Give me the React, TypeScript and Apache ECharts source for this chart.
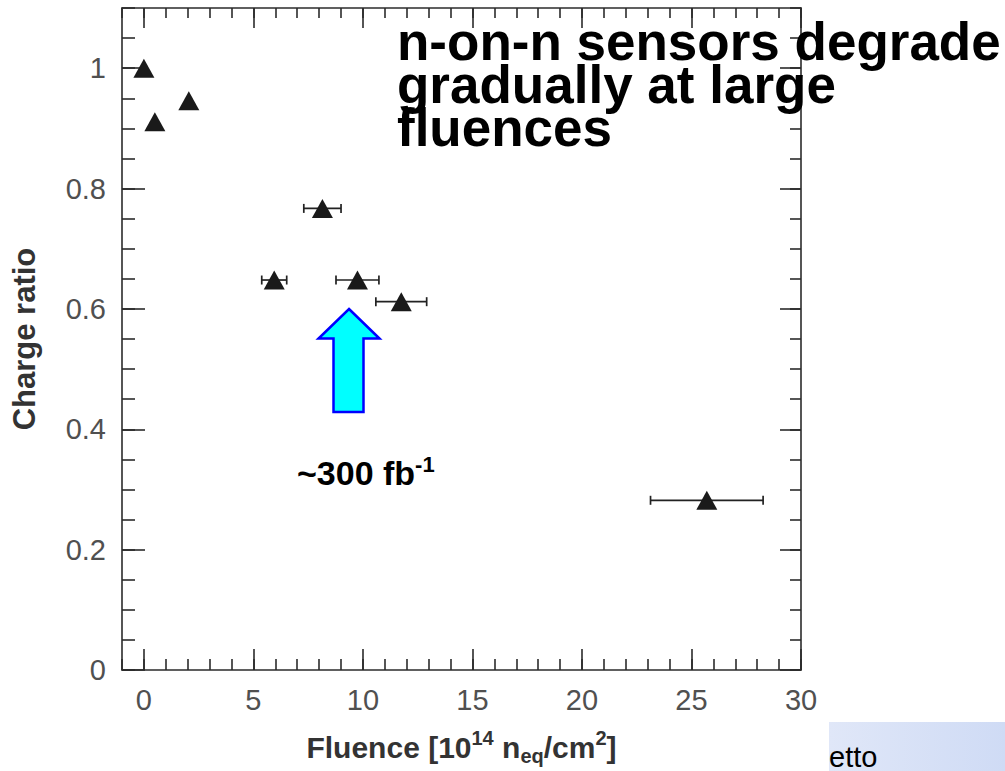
import React, { useEffect, useRef } from 'react';
import * as echarts from 'echarts';

// ---- data ----
const fluence = [0, 0.5, 2.05, 5.95, 8.15, 9.75, 11.75, 25.7];
const chargeRatio = [1.0, 0.911, 0.946, 0.648, 0.767, 0.648, 0.612, 0.282];
const fluenceErr = [0, 0, 0, 0.57, 0.85, 0.98, 1.16, 2.57];

const xMajorTicks = [0, 5, 10, 15, 20, 25, 30];
const xMinorTicks = [-1, 0, 1, 2, 3, 4, 5, 6, 7, 8, 9, 10, 11, 12, 13, 14, 15, 16, 17, 18, 19, 20, 21, 22, 23, 24, 25, 26, 27, 28, 29, 30];
const yMajorTicks = [0, 0.2, 0.4, 0.6, 0.8, 1];
const yMinorTicks = [0, 0.05, 0.1, 0.15, 0.2, 0.25, 0.3, 0.35, 0.4, 0.45, 0.5, 0.55, 0.6, 0.65, 0.7, 0.75, 0.8, 0.85, 0.9, 0.95, 1, 1.05, 1.1];

const X_MIN = -1;
const X_MAX = 30;
const Y_MIN = 0;
const Y_MAX = 1.1;

const FONT = '"Liberation Sans", Arial, Helvetica, sans-serif';
const AXIS_COLOR = '#2b2b2b';

function makeAxis(kind: 'x' | 'y', position: string, ticks: number[], len: number, showLine: boolean, showLabel: boolean, extra: any = {}) {
  return {
    type: 'value',
    position,
    min: kind === 'x' ? X_MIN : Y_MIN,
    max: kind === 'x' ? X_MAX : Y_MAX,
    splitLine: { show: false },
    axisLine: { show: showLine, onZero: false, lineStyle: { color: AXIS_COLOR, width: 1.6 } },
    axisTick: {
      show: true,
      inside: true,
      length: len,
      customValues: ticks,
      lineStyle: { color: AXIS_COLOR, width: 1.6 },
    },
    axisLabel: showLabel
      ? {
          show: true,
          customValues: kind === 'x' ? xMajorTicks : yMajorTicks,
          fontFamily: FONT,
          fontSize: 29,
          color: '#505050',
          margin: kind === 'x' ? 15 : 16,
        }
      : { show: false },
    nameMoveOverlap: false,
    ...extra,
  };
}

export default function App() {
  const ref = useRef<HTMLDivElement>(null);

  useEffect(() => {
    const chart = echarts.init(ref.current!, null, { renderer: 'svg' });

    const pointData = fluence.map((x, i) => [x, chargeRatio[i]]);
    const errData = fluence.map((x, i) => [x, chargeRatio[i], fluenceErr[i]]);

    const option: any = {
      animation: false,
      backgroundColor: '#ffffff',
      grid: { left: 122, top: 8, right: 204, bottom: 101, outerBoundsMode: 'none' },
      xAxis: [
        makeAxis('x', 'bottom', xMajorTicks, 21, true, true, {
          name: '{t|Fluence [10}{sup|14}{t| n}{sub|eq}{t|/cm}{sup|2}{t|]}',
          nameLocation: 'middle',
          nameGap: 58,
          nameTextStyle: {
            fontFamily: FONT,
            rich: {
              t: { fontFamily: FONT, fontSize: 30, fontWeight: 'bold', color: '#333', lineHeight: 38 },
              sup: { fontFamily: FONT, fontSize: 20, fontWeight: 'bold', color: '#333', lineHeight: 20, verticalAlign: 'top' },
              sub: { fontFamily: FONT, fontSize: 20, fontWeight: 'bold', color: '#333', lineHeight: 20, verticalAlign: 'bottom' },
            },
          },
        }),
        makeAxis('x', 'bottom', xMinorTicks, 11, false, false),
        makeAxis('x', 'top', xMajorTicks, 20, true, false),
        makeAxis('x', 'top', xMinorTicks, 10, false, false),
      ],
      yAxis: [
        makeAxis('y', 'left', yMajorTicks, 23, true, true, {
          name: 'Charge ratio',
          nameLocation: 'middle',
          nameRotate: 90,
          nameGap: 82,
          nameTextStyle: { fontFamily: FONT, fontSize: 31, fontWeight: 'bold', color: '#333' },
        }),
        makeAxis('y', 'left', yMinorTicks, 13, false, false),
        makeAxis('y', 'right', yMajorTicks, 21, true, false),
        makeAxis('y', 'right', yMinorTicks, 11, false, false),
      ],
      series: [
        {
          type: 'custom',
          name: 'fluence error',
          xAxisIndex: 0,
          yAxisIndex: 0,
          data: errData,
          encode: { x: 0, y: 1 },
          z: 2,
          renderItem: (params: any, api: any) => {
            const x = api.value(0);
            const y = api.value(1);
            const e = api.value(2);
            if (!e) return null;
            const p1 = api.coord([x - e, y]);
            const p2 = api.coord([x + e, y]);
            const h = 4.5;
            const style = { stroke: '#222', lineWidth: 1.7 };
            return {
              type: 'group',
              children: [
                { type: 'line', shape: { x1: p1[0], y1: p1[1], x2: p2[0], y2: p2[1] }, style },
                { type: 'line', shape: { x1: p1[0], y1: p1[1] - h, x2: p1[0], y2: p1[1] + h }, style },
                { type: 'line', shape: { x1: p2[0], y1: p2[1] - h, x2: p2[0], y2: p2[1] + h }, style },
              ],
            };
          },
        },
        {
          type: 'scatter',
          name: 'Charge ratio',
          xAxisIndex: 0,
          yAxisIndex: 0,
          data: pointData,
          symbol: 'triangle',
          symbolSize: [21, 19],
          itemStyle: { color: '#1a1a1a', opacity: 1 },
          z: 3,
        },
      ],
      graphic: [
        {
          type: 'polygon',
          shape: {
            points: [
              [349, 309],
              [379.5, 338.5],
              [363.5, 338.5],
              [363.5, 412],
              [333.5, 412],
              [333.5, 338.5],
              [318.5, 338.5],
            ],
          },
          style: { fill: '#00ffff', stroke: '#0000ff', lineWidth: 2.5 },
          z: 10,
        },
        {
          type: 'text',
          x: 297,
          y: 473,
          style: {
            text: '{a|~300 fb}{s|-1}',
            verticalAlign: 'middle',
            align: 'left',
            rich: {
              a: { fontFamily: FONT, fontSize: 34, fontWeight: 'bold', fill: '#000', lineHeight: 40 },
              s: { fontFamily: FONT, fontSize: 22, fontWeight: 'bold', fill: '#000', lineHeight: 22, verticalAlign: 'top' },
            },
          },
          z: 10,
        },
        {
          type: 'text',
          x: 397,
          y: 20,
          style: {
            text: 'n-on-n sensors degrade\ngradually at large\nfluences',
            fontFamily: FONT,
            fontSize: 53,
            fontWeight: 'bold',
            fill: '#000',
            lineHeight: 43,
            align: 'left',
            verticalAlign: 'top',
          },
          z: 10,
        },
        {
          type: 'rect',
          shape: { x: 829, y: 722, width: 176, height: 49 },
          style: {
            fill: new echarts.graphic.LinearGradient(0, 0, 1, 0, [
              { offset: 0, color: '#e0e7f8' },
              { offset: 1, color: '#cfdbf5' },
            ]),
          },
          z: 5,
        },
        {
          type: 'text',
          x: 829,
          y: 771,
          style: {
            text: 'etto',
            fontFamily: FONT,
            fontSize: 29,
            fill: '#000',
            align: 'left',
            verticalAlign: 'bottom',
          },
          z: 6,
        },
      ],
    };

    chart.setOption(option);
    return () => chart.dispose();
  }, []);

  return (
    <div
      ref={ref}
      style={{ position: 'absolute', left: 0, top: 0, width: 1005, height: 771, background: '#fff' }}
    />
  );
}
